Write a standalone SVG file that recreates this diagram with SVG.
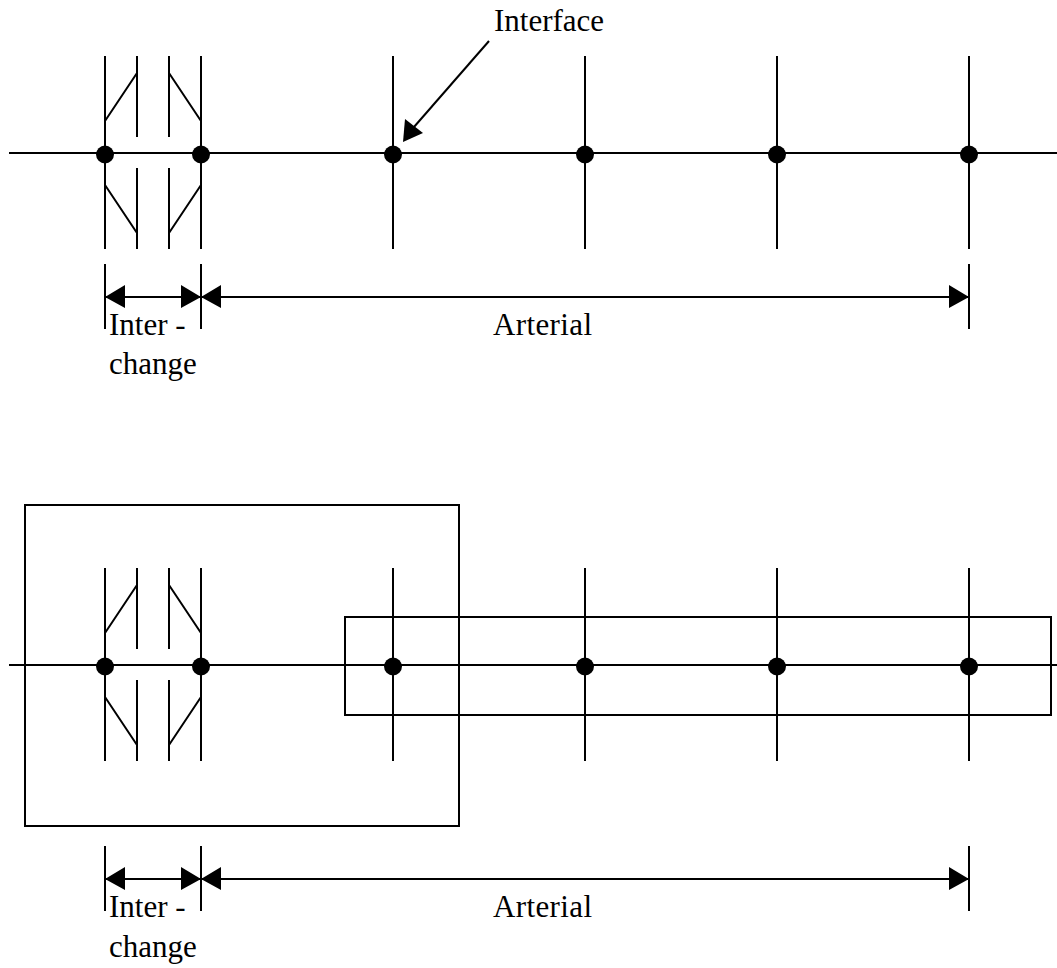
<svg xmlns="http://www.w3.org/2000/svg" width="1057" height="968" viewBox="0 0 1057 968">
<style>
.l{stroke:#000;stroke-width:2;fill:none}
.d{fill:#000}
.t{font-family:"Liberation Serif","Times New Roman",serif;font-size:31px;fill:#000}
</style>
<defs>
<g id="ic">
<path class="l" d="M105 56V249M137 56V137M169 56V137M201 56V249M137 168V249M169 168V249M105 121L137 73M169 73L201 121M105 185L137 233M169 233L201 185"/>
</g>
<g id="dim">
<path class="l" d="M105 264V329M201 264V329M969 264V329M105 297H969"/>
<path class="d" d="M105 297L125 285V308ZM201 297L181 285V308ZM201 297L221 285V308ZM969 297L949 285V308Z"/>
</g>
</defs>
<rect width="1057" height="968" fill="#fff"/>
<g id="connectors">
<path class="l" d="M9 153H1057M393 56V249M585 56V249M777 56V249M969 56V249"/>
<use href="#ic"/>
<path class="l" d="M489 41L414 127"/>
<path class="d" d="M403 142L405 119L423 133Z"/>
<use href="#dim"/>
<path class="l" d="M9 665H1057M393 568V761M585 568V761M777 568V761M969 568V761"/>
<use href="#ic" y="512"/>
<use href="#dim" y="582"/>
</g>
<g id="n1"><circle class="d" cx="105" cy="154.500" r="9"/></g>
<g id="n2"><circle class="d" cx="201" cy="154.500" r="9"/></g>
<g id="n3"><circle class="d" cx="393" cy="154.500" r="9"/></g>
<g id="n4"><circle class="d" cx="585" cy="154.500" r="9"/></g>
<g id="n5"><circle class="d" cx="777" cy="154.500" r="9"/></g>
<g id="n6"><circle class="d" cx="969" cy="154.500" r="9"/></g>
<g id="n7"><circle class="d" cx="105" cy="666.500" r="9"/></g>
<g id="n8"><circle class="d" cx="201" cy="666.500" r="9"/></g>
<g id="n9"><circle class="d" cx="393" cy="666.500" r="9"/></g>
<g id="n10"><circle class="d" cx="585" cy="666.500" r="9"/></g>
<g id="n11"><circle class="d" cx="777" cy="666.500" r="9"/></g>
<g id="n12"><circle class="d" cx="969" cy="666.500" r="9"/></g>
<g id="box1"><rect class="l" x="25" y="505" width="434" height="321"/></g>
<g id="box2"><rect class="l" x="345" y="617" width="706" height="98"/></g>
<g id="labels">
<text class="t" x="494" y="31">Interface</text>
<text class="t" x="109" y="335">Inter -</text>
<text class="t" x="109" y="374">change</text>
<text class="t" x="493" y="335" textLength="99">Arterial</text>
<text class="t" x="109" y="917">Inter -</text>
<text class="t" x="109" y="957">change</text>
<text class="t" x="493" y="917" textLength="99">Arterial</text>
</g>
</svg>
